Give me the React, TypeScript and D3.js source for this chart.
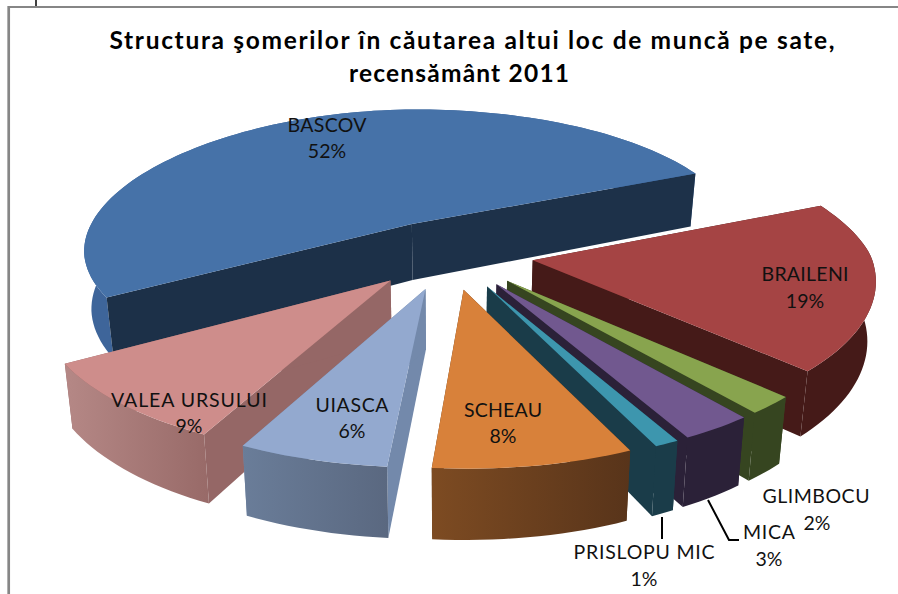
import React from "react";
import * as d3 from "d3";

const categories = ["BRAILENI", "GLIMBOCU", "MICA", "PRISLOPU MIC", "SCHEAU", "UIASCA", "VALEA URSULUI", "BASCOV"];
const values = [19, 2, 3, 1, 8, 6, 9, 52];
const topColors = ["#a54444", "#88a44e", "#71588f", "#3d96ae", "#d8813a", "#93a9cf", "#ce8d8b", "#4672a8"];
const startWallColors = ["#451a18", "#364520", "#2b2138", "#1a3c49", "#5a3518", "#7389ab", "#956766", "#1c3048"];
const endWallColors = ["#451a18", "#364520", "#2b2138", "#1a3c49", "#5a3518", "#7389ab", "#956766", "#1d3149"];
const outerFrom = ["#451a18", "#364520", "#2b2138", "#1a3c49", "#7d4b22", "#6a7d99", "#b58886", "#3e659a"];
const outerTo = ["#451a18", "#364520", "#2b2138", "#1a3c49", "#58341a", "#5a6880", "#986a68", "#3e659a"];
const paintOrder = [7, 0, 1, 2, 3, 6, 5, 4];
const titleLines = ["Structura şomerilor în căutarea altui loc de muncă pe sate,", "recensământ 2011"];

// text layout, per title line and per category
const titleX = [472, 459];
const titleY = [49, 82];
const titleWidth = [725, 220];
const labelX = [805, 816, 769, 644, 503, 352, 189, 327];
const labelY = [281, 503, 539, 559, 417, 412, 407, 132];
const labelWidth = [87, 107, 52, 141, 78, 73, 156, 79];
const percentX = [805, 817, 769, 644, 503, 352, 189, 327];
const percentDy = [27, 27, 27, 27, 26, 26, 26, 26];

// camera of the 3D pie
const cx = 449, cy = 254, fx = 338, fy = 140, persp = 0.15, explode = 0.25, depth = 58, floorShrink = 0.98;
const nearShear = 10, nearShearLeft = 4, farLeftPull = 13, farLeftFrom = 0.275;
const firstAngle = (66 * Math.PI) / 180;

const W = 898, H = 594;

function project(u: number, v: number) {
  const w = 1 - persp * v;
  let x = cx + (fx * u) / w;
  if (u > 0) x -= nearShear * u * u * Math.max(v, 0);
  else {
    x += nearShearLeft * -u * Math.max(v, 0);
    x += farLeftPull * -u * Math.max(farLeftFrom - v, 0);
  }
  return { x, y: cy + (fy * v) / w, w };
}
const lineGen = d3.line<[number, number]>().x((d) => d[0]).y((d) => d[1]);

export default function App() {
  const arcs = d3
    .pie<number>()
    .sort(null)
    .startAngle(firstAngle)
    .endAngle(firstAngle + 2 * Math.PI)(values);

  const faces = paintOrder.map((i) => {
    const a = arcs[i];
    const bis = (a.startAngle + a.endAngle) / 2;
    const ox = explode * Math.sin(bis);
    const oy = -explode * Math.cos(bis);
    const top = (ang: number | null): [number, number] => {
      const u = ox + (ang === null ? 0 : Math.sin(ang));
      const v = oy + (ang === null ? 0 : -Math.cos(ang));
      const p = project(u, v);
      return [p.x, p.y];
    };
    const bottom = (ang: number | null): [number, number] => {
      const u = ox + (ang === null ? 0 : Math.sin(ang));
      const v = oy + (ang === null ? 0 : -Math.cos(ang));
      const p = project(u, v);
      return [cx + (p.x - cx) * floorShrink, p.y + depth / p.w];
    };
    const steps = Math.max(6, Math.ceil((a.endAngle - a.startAngle) / 0.03));
    const angles = d3.range(steps + 1).map((s) => a.startAngle + ((a.endAngle - a.startAngle) * s) / steps);
    const rimTop = angles.map(top);
    const rimBottom = angles.map(bottom).reverse();
    return {
      i,
      reflex: a.endAngle - a.startAngle > Math.PI,
      topPath: lineGen([top(null), ...rimTop])! + "Z",
      outerPath: lineGen([...rimTop, ...rimBottom])! + "Z",
      startWall: lineGen([top(null), top(a.startAngle), bottom(a.startAngle), bottom(null)])! + "Z",
      endWall: lineGen([top(null), top(a.endAngle), bottom(a.endAngle), bottom(null)])! + "Z",
    };
  });

  const font = "Lato, 'Open Sans', sans-serif";
  return (
    <svg width={W} height={H} style={{ position: "absolute", left: 0, top: 0, background: "#fff" }}>
      <defs>
        {categories.map((c, i) => (
          <linearGradient key={c} id={`outer${i}`} x1="0" x2="1" y1="0" y2="0">
            <stop offset="0" stopColor={outerFrom[i]} />
            <stop offset="1" stopColor={outerTo[i]} />
          </linearGradient>
        ))}
      </defs>

      <line x1={36} x2={36} y1={0} y2={6} stroke="#000" strokeWidth={1.5} />
      <path d={`M${W},7H8`} fill="none" stroke="#868686" strokeWidth={2} />
      <path d={`M8.7,6V${H}`} fill="none" stroke="#868686" strokeWidth={2.7} />

      {titleLines.map((t, i) => (
        <text key={t} x={titleX[i]} y={titleY[i]} textAnchor="middle" fontFamily={font} fontWeight={700} fontSize={24.5}
          textLength={titleWidth[i]} lengthAdjust="spacing" fill="#000">
          {t}
        </text>
      ))}

      {faces.map((f) => (
        <g key={f.i}>
          {f.reflex && <path d={f.outerPath} fill={`url(#outer${f.i})`} />}
          <path d={f.startWall} fill={startWallColors[f.i]} />
          <path d={f.endWall} fill={endWallColors[f.i]} />
          {!f.reflex && <path d={f.outerPath} fill={`url(#outer${f.i})`} />}
          <path d={f.topPath} fill={topColors[f.i]} />
        </g>
      ))}

      <g stroke="#000" strokeWidth={2} fill="none">
        <path d="M662,517V539" />
        <path d="M708,500L729,540H739" />
      </g>

      {categories.map((c, i) => (
        <g key={c} fontFamily={font} fontSize={19.5} fill="#111" textAnchor="middle">
          <text x={labelX[i]} y={labelY[i]} textLength={labelWidth[i]} lengthAdjust="spacing">{c}</text>
          <text x={percentX[i]} y={labelY[i] + percentDy[i]}>{values[i]}%</text>
        </g>
      ))}
    </svg>
  );
}
